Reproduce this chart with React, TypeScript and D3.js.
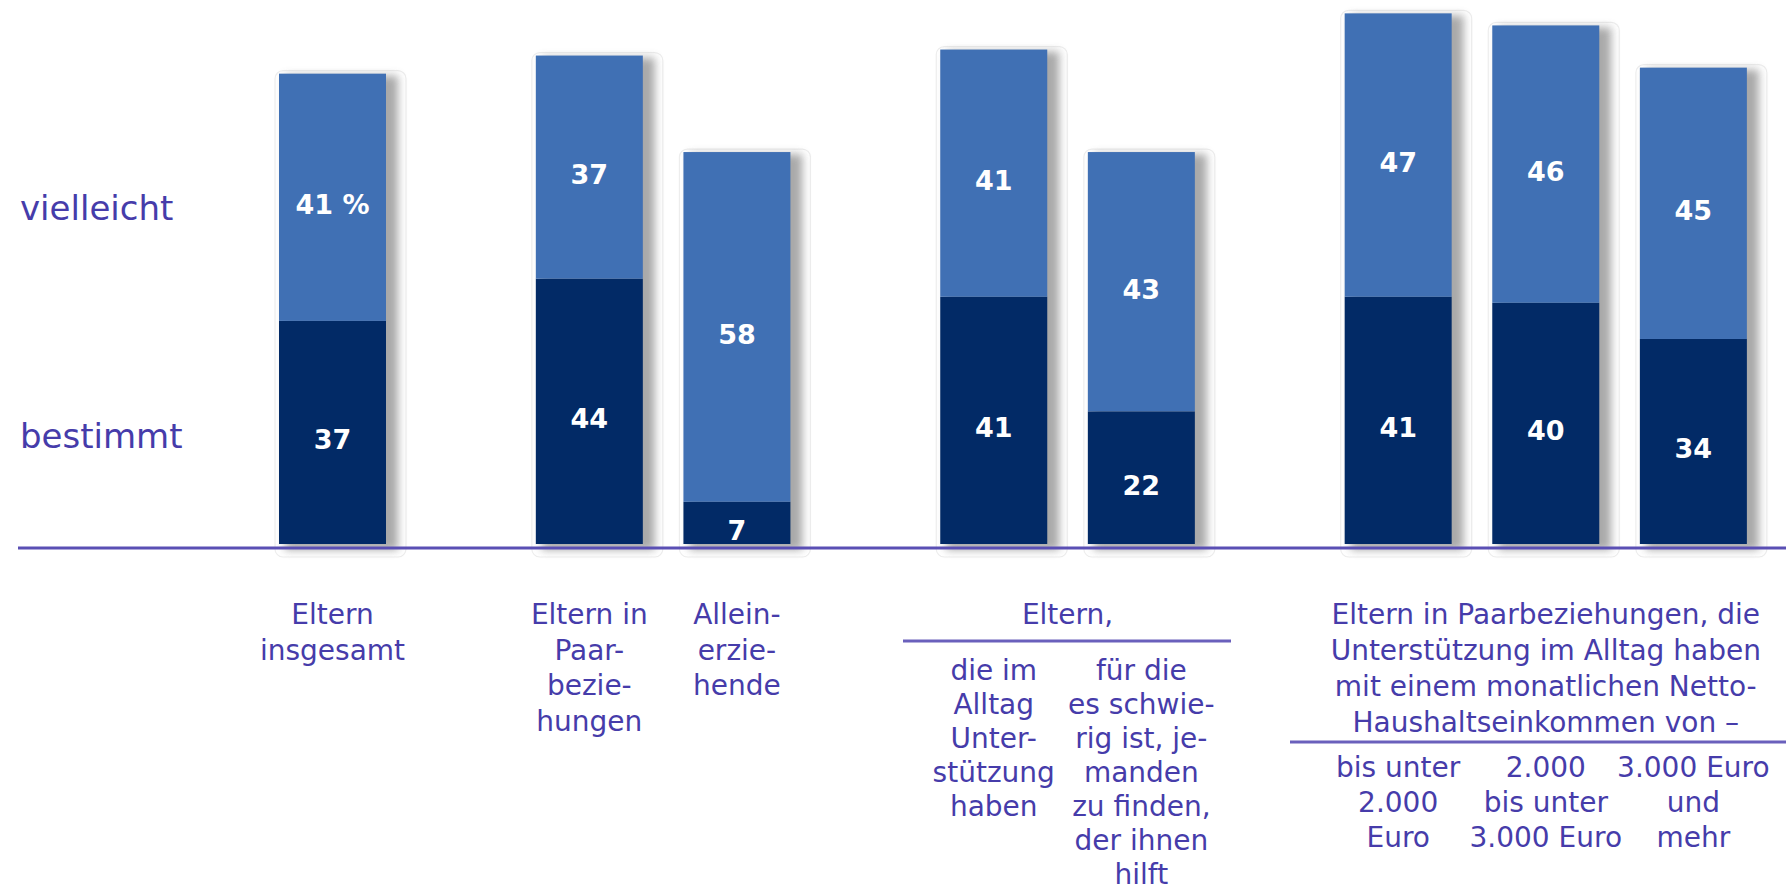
import React from 'react';
import * as d3 from 'd3';

// values in percent
const bestimmt = [37, 44, 7, 41, 22, 41, 40, 34];
const vielleicht = [41, 37, 58, 41, 43, 47, 46, 45];
const groupOf = [0, 1, 1, 2, 2, 3, 3, 3];
const seriesNames = ['bestimmt', 'vielleicht'];

const catLines: string[][] = [
  ['Eltern', 'insgesamt'],
  ['Eltern in', 'Paar-', 'bezie-', 'hungen'],
  ['Allein-', 'erzie-', 'hende'],
  ['die im', 'Alltag', 'Unter-', 'stützung', 'haben'],
  ['für die', 'es schwie-', 'rig ist, je-', 'manden', 'zu finden,', 'der ihnen', 'hilft'],
  ['bis unter', '2.000', 'Euro'],
  ['2.000', 'bis unter', '3.000 Euro'],
  ['3.000 Euro', 'und', 'mehr'],
];

const groupHeaders: { group: number; lines: string[] }[] = [
  { group: 2, lines: ['Eltern,'] },
  {
    group: 3,
    lines: [
      'Eltern in Paarbeziehungen, die',
      'Unterstützung im Alltag haben',
      'mit einem monatlichen Netto-',
      'Haushaltseinkommen von –',
    ],
  },
];

const W = 1786;
const H = 895;
const FONT = '"DejaVu Sans", sans-serif';
const TEXT_COLOR = '#463caa';
const LIGHT = '#4070b4';
const DARK = '#022a66';

const App: React.FC = () => {
  const baseY = 544;
  const y = d3.scaleLinear().domain([0, 100]).range([baseY, baseY - 603]);
  const slot = d3.scaleLinear().domain([0, 1]).range([279, 279 + 147.6]);
  const groupGap = 0.74;
  const barW = 107;
  const xOf = (i: number) => slot(i + groupOf[i] * groupGap);
  const cx = (i: number) => xOf(i) + barW / 2;

  const stack = d3.stack<number>().keys(seriesNames).value((i, key) =>
    key === 'bestimmt' ? bestimmt[i] : vielleicht[i]
  );
  const layers = stack(d3.range(bestimmt.length));
  const fills = [DARK, LIGHT];

  const lineH = 35.5;

  return (
    <svg width={W} height={H} style={{ position: 'absolute', left: 0, top: 0, background: '#fff' }}>
      <defs>
        <filter id="shadow" x="-30%" y="-10%" width="160%" height="130%">
          <feGaussianBlur stdDeviation="4" />
        </filter>
      </defs>

      {/* bar shadows */}
      {bestimmt.map((b, i) => {
        const top = y(b + vielleicht[i]);
        return (
          <g key={'sh' + i}>
            <rect x={xOf(i) - 4} y={top - 3} width={barW + 24} height={baseY - top + 16} rx={8}
              fill="none" stroke="#ededed" strokeWidth={1.2} />
            <rect x={xOf(i) + 6} y={top + 2} width={barW + 6} height={baseY - top + 4}
              fill="#8d8d8d" opacity={0.75} filter="url(#shadow)" />
          </g>
        );
      })}

      {/* stacked bars */}
      {layers.map((layer, li) => (
        <g key={layer.key}>
          {layer.map((d, i) => (
            <rect key={i} x={xOf(i)} y={y(d[1])} width={barW} height={y(d[0]) - y(d[1])} fill={fills[li]} />
          ))}
        </g>
      ))}

      {/* value labels */}
      {layers.map((layer, li) => (
        <g key={'lab' + layer.key}>
          {layer.map((d, i) => {
            const mid = (y(d[0]) + y(d[1])) / 2;
            const v = d[1] - d[0];
            return (
              <text key={i} x={cx(i)} y={mid + 17} textAnchor="middle" fill="#fff"
                fontFamily={FONT} fontWeight="bold" fontSize={27}>
                {i === 0 && li === 1 ? `${v} %` : v}
              </text>
            );
          })}
        </g>
      ))}

      {/* baseline */}
      <line x1={18} x2={W} y1={548} y2={548} stroke="#5a4fb4" strokeWidth={3} />

      {/* series labels */}
      <text x={20} y={220} fontFamily={FONT} fontSize={34} fill={TEXT_COLOR}>vielleicht</text>
      <text x={20} y={448} fontFamily={FONT} fontSize={34} fill={TEXT_COLOR}>bestimmt</text>

      {/* category labels */}
      {catLines.map((lines, i) => {
        let start = 615;
        let step = lineH;
        if (groupOf[i] === 2) { start = 671; step = 34; }
        if (groupOf[i] === 3) { start = 768; step = 35; }
        return (
          <text key={'c' + i} textAnchor="middle" fontFamily={FONT} fontSize={28} fill={TEXT_COLOR}>
            {lines.map((l, k) => (
              <tspan key={k} x={cx(i)} y={start + k * step + 9}>{l}</tspan>
            ))}
          </text>
        );
      })}

      {/* group headers with rule */}
      {groupHeaders.map((g) => {
        const idx = d3.range(bestimmt.length).filter((i) => groupOf[i] === g.group);
        const gx = (cx(idx[0]) + cx(idx[idx.length - 1])) / 2;
        const ruleY = g.group === 2 ? 641 : 742;
        const x1 = g.group === 2 ? 903 : 1290;
        const x2 = g.group === 2 ? 1231 : W;
        return (
          <g key={'g' + g.group}>
            <text textAnchor="middle" fontFamily={FONT} fontSize={28} fill={TEXT_COLOR}>
              {g.lines.map((l, k) => (
                <tspan key={k} x={gx} y={614 + k * 36 + 10}>{l}</tspan>
              ))}
            </text>
            <line x1={x1} x2={x2} y1={ruleY} y2={ruleY} stroke="#6a60bc" strokeWidth={3} />
          </g>
        );
      })}
    </svg>
  );
};

export default App;
